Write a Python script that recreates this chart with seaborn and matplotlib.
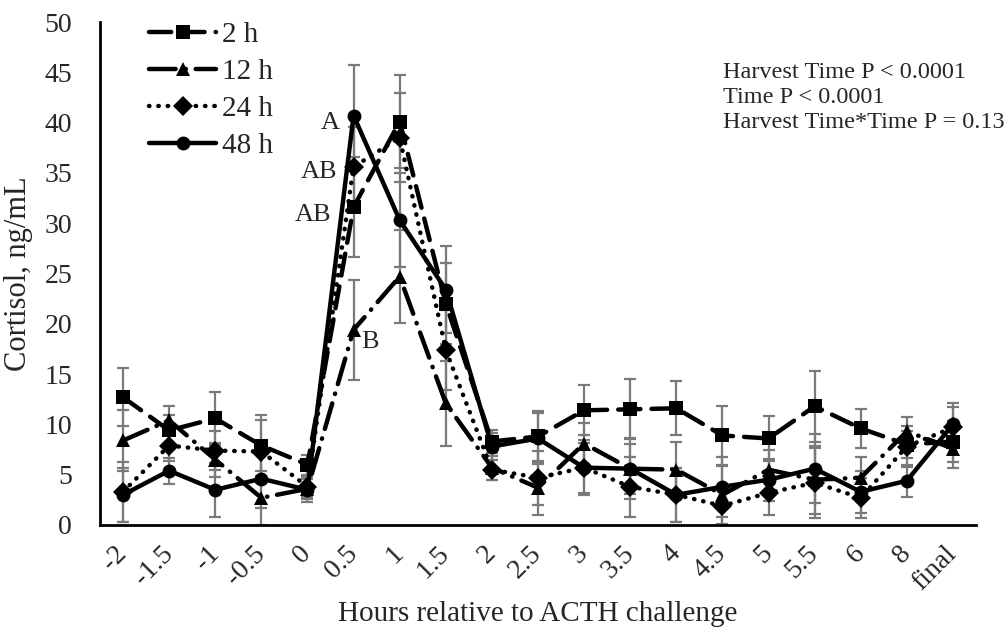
import numpy as np
import pandas as pd
import matplotlib
matplotlib.use("Agg")
import matplotlib.pyplot as plt
import seaborn as sns

hours = ["-2", "-1.5", "-1", "-0.5", "0", "0.5", "1", "1.5", "2", "2.5",
         "3", "3.5", "4", "4.5", "5", "5.5", "6", "8", "final"]
series_names = ["2 h", "12 h", "24 h", "48 h"]

h2 = [12.7, 9.4, 10.6, 7.9, 6.0, 31.6, 40.1, 22.0, 8.3, 8.8,
      11.4, 11.5, 11.6, 8.9, 8.6, 11.8, 9.6, 8.0, 8.3]
h12 = [8.4, 10.4, 6.5, 2.7, 3.6, 19.4, 24.7, 12.1, 5.7, 3.7,
       8.1, 5.6, 5.5, 3.0, 5.5, 4.5, 4.7, 9.3, 7.6]
h24 = [3.3, 7.9, 7.4, 7.3, 3.8, 35.6, 38.5, 17.4, 5.5, 4.7,
       5.7, 3.8, 3.0, 1.9, 3.2, 4.2, 2.7, 7.8, 9.7]
h48 = [3.0, 5.4, 3.5, 4.6, 3.5, 40.7, 30.3, 23.4, 7.8, 8.6,
       5.7, 5.6, 3.0, 3.8, 4.5, 5.6, 3.3, 4.4, 10.0]

e2 = [2.9, 1.5, 2.6, 3.0, 1.0, 5.0, 4.6, 4.0, 1.1, 2.5,
      2.5, 3.0, 2.7, 2.9, 2.2, 3.5, 1.9, 1.3, 2.0]
e12 = [3.0, 1.4, 1.7, 2.7, 1.0, 5.0, 4.6, 4.2, 1.2, 2.7,
       2.0, 2.5, 2.8, 2.9, 2.0, 3.4, 2.1, 1.4, 1.9]
e24 = [3.0, 1.5, 1.9, 3.1, 1.0, 4.0, 4.4, 4.0, 1.0, 2.7,
       2.5, 3.0, 2.7, 2.0, 2.2, 3.5, 2.0, 2.0, 2.0]
e48 = [2.7, 1.3, 2.7, 2.9, 1.2, 5.0, 4.7, 4.3, 1.3, 2.5,
       2.7, 3.0, 2.7, 3.0, 2.1, 3.4, 2.1, 1.6, 2.1]

stats_lines = ["Harvest Time P < 0.0001", "Time P < 0.0001",
               "Harvest Time*Time P = 0.13"]
letters = {"48 h": "A", "24 h": "AB", "2 h": "AB", "12 h": "B"}
letter_offsets = {"48 h": (-16.5, -5), "24 h": (-25, -3.6),
                  "2 h": (-29, -6), "12 h": (12, -9)}

values = {"2 h": h2, "12 h": h12, "24 h": h24, "48 h": h48}
errors = {"2 h": e2, "12 h": e12, "24 h": e24, "48 h": e48}

sns.set_style("white")
plt.rcParams["font.family"] = ["Liberation Serif", "DejaVu Serif"]
plt.rcParams["lines.dash_capstyle"] = "round"
plt.rcParams["lines.solid_capstyle"] = "round"

pos = np.arange(len(hours))
rows = []
for name in series_names:
    for p, v in zip(pos, values[name]):
        rows.append({"pos": p, "cortisol": v, "harvest": name})
df = pd.DataFrame(rows)

fig = plt.figure(figsize=(10.08, 6.31), dpi=100)
ax = fig.add_axes([100 / 1008, 1 - 525 / 631, 876 / 1008, (525 - 22) / 631])

for name in series_names:
    ax.errorbar(pos, values[name], yerr=errors[name], fmt="none",
                ecolor="#7a7a7a", elinewidth=1.6, capsize=4.5, capthick=1.6,
                zorder=1)

sns.lineplot(data=df, x="pos", y="cortisol", hue="harvest", style="harvest",
             hue_order=series_names, style_order=series_names,
             palette=["black"] * 4,
             markers={"2 h": "s", "12 h": "^", "24 h": "D", "48 h": "o"},
             dashes={"2 h": (5, 2.5), "12 h": (6, 2.2, 0.1, 2.2),
                     "24 h": (0.1, 2.0), "48 h": ""},
             linewidth=3.2, markersize=10, markeredgewidth=0,
             ax=ax, zorder=3)

for name in series_names:
    i = 5
    ax.annotate(letters[name], xy=(pos[i], values[name][i]),
                xytext=letter_offsets[name], textcoords="offset points",
                ha="center", va="center", fontsize=19)

ax.set_xlim(-0.5, len(hours) - 0.5)
ax.set_ylim(0, 50)
ax.set_yticks(np.arange(0, 51, 5))
ax.set_xticks(pos)
ax.set_xticklabels(hours, rotation=45, ha="right", va="center",
                   rotation_mode="anchor")
ax.tick_params(axis="both", length=0, labelsize=20)
ax.tick_params(axis="y", pad=20)
ax.tick_params(axis="x", pad=18)
ax.set_xlabel("Hours relative to ACTH challenge", fontsize=21, labelpad=4)
ax.set_ylabel("Cortisol, ng/mL", fontsize=22, labelpad=8)

for s in ["top", "right"]:
    ax.spines[s].set_visible(False)
for s in ["left", "bottom"]:
    ax.spines[s].set_color("black")
    ax.spines[s].set_linewidth(2)

leg = ax.legend(loc="upper left", bbox_to_anchor=(0.056, 1.0), frameon=False,
                handlelength=2.3, labelspacing=0.36, fontsize=21,
                handletextpad=0.2, borderaxespad=0, borderpad=0)
for h in leg.legend_handles:
    h.set_color("black")

for k, line in enumerate(stats_lines):
    fig.text(723 / 1008, 1 - (72 + 25.5 * k) / 631, line, fontsize=17.5,
             ha="left", va="center")

fig.savefig("out.png", dpi=100)
